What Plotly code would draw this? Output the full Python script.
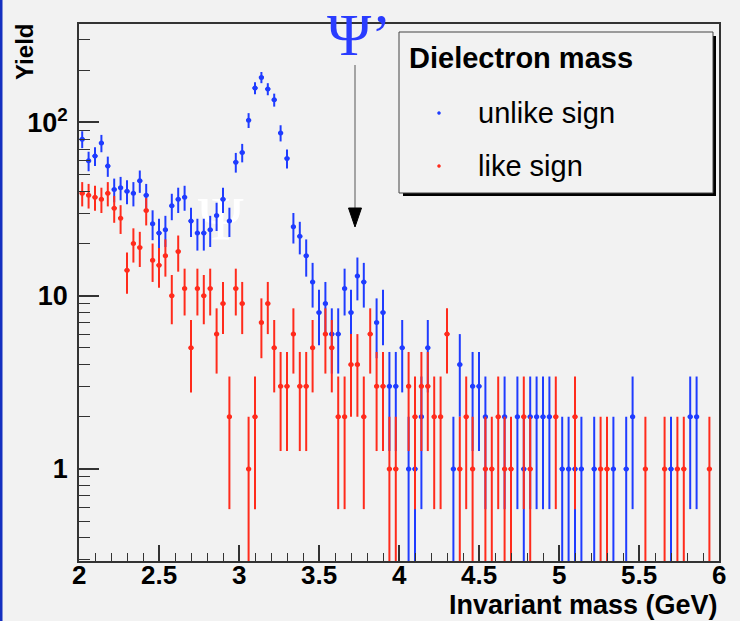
import numpy as np
import plotly.graph_objects as go

# ---- data: dielectron invariant-mass histogram, 100 bins from 2 to 6 GeV ----
mass_lo, mass_hi, n_bins = 2.0, 6.0, 100

unlike_sign = [80, 60, 64, 76, 56, 41, 42, 40, 39, 46,
               38, 26, 23, 24, 33, 36, 37, 27, 23, 23,
               24, 29, 36, 27, 59, 67, 103, 158, 182, 156,
               135, 87, 62, 25, 22, 17, 12, 8, 9, 6,
               6, 11, 8, 13, 12, 0, 7, 8, 3, 3,
               5, 1, 1, 2, 5, 0, 0, 0, 1, 4,
               0, 3, 3, 2, 0, 0, 2, 0, 2, 1,
               2, 2, 2, 2, 0, 1, 1, 1, 1, 0,
               1, 0, 0, 1, 0, 1, 2, 0, 0, 0,
               0, 0, 1, 0, 0, 2, 2, 0, 0, 0]

like_sign = [39, 38, 37, 36, 39, 32, 28, 14, 20, 19,
             31, 16, 15, 17, 10, 18, 11, 5, 11, 10,
             11, 6, 9, 2, 11, 9, 1, 2, 7, 9,
             5, 3, 3, 6, 3, 3, 5, 0, 6, 5,
             2, 2, 4, 4, 2, 6, 3, 3, 1, 1,
             0, 3, 2, 3, 3, 2, 2, 6, 0, 1,
             2, 1, 0, 1, 1, 2, 1, 1, 0, 2,
             1, 0, 0, 0, 2, 0, 0, 2, 0, 0,
             0, 1, 1, 0, 0, 0, 0, 0, 1, 0,
             0, 1, 0, 1, 1, 0, 0, 0, 1, 0]

x_ticks = [2, 2.5, 3, 3.5, 4, 4.5, 5, 5.5, 6]
x_tick_text = ["2", "2.5", "3", "3.5", "4", "4.5", "5", "5.5", "6"]
y_ticks = [1, 10, 100]
y_tick_text = ["1", "10", "10<sup>2</sup>"]

BG = "#f2f2f2"
AXC = "#333333"
BLUE = "#1f3cff"
RED = "#ff2b1c"
FONT = "Liberation Sans"

bin_w = (mass_hi - mass_lo) / n_bins
centers = mass_lo + (np.arange(n_bins) + 0.5) * bin_w


def hist_trace(counts, color, name):
    c = np.asarray(counts, dtype=float)
    keep = c > 0
    x = centers[keep]
    y = c[keep]
    err = np.sqrt(y)
    err_lo = np.where(y - err > 0, err, y - 0.05)
    return go.Scatter(
        x=x, y=y, mode="markers", name=name, showlegend=False,
        marker=dict(color=color, size=5, symbol="circle"),
        error_y=dict(type="data", array=err, arrayminus=err_lo, symmetric=False,
                     color=color, thickness=2, width=0),
        error_x=dict(type="constant", value=bin_w * 0.4, color=color,
                     thickness=2, width=0),
        hoverinfo="x+y",
    )


fig = go.Figure()

# white psi label sitting under the data
fig.add_trace(go.Scatter(
    x=[2.885], y=[26], mode="text", text=["Ψ"], showlegend=False,
    textfont=dict(family="Liberation Serif", size=62, color="white"),
    hoverinfo="skip"))

fig.add_trace(hist_trace(unlike_sign, BLUE, "unlike sign"))
fig.add_trace(hist_trace(like_sign, RED, "like sign"))

W, H = 740, 621
L, R, T, B = 79, 21, 24, 60
pw, ph = W - L - R, H - T - B


def px(x):
    return (x - L) / pw


def py(y):
    return (H - B - y) / ph


shapes = []
# blue strip at the left edge of the canvas
shapes.append(dict(type="rect", xref="paper", yref="paper",
                   x0=px(0), x1=px(2.5), y0=py(H), y1=py(0),
                   fillcolor="#1530c0", line=dict(width=0), layer="above"))
# arrow toward psi'
shapes.append(dict(type="line", xref="paper", yref="paper",
                   x0=px(355), x1=px(355), y0=py(65), y1=py(210),
                   line=dict(color="#8a8a8a", width=1.5)))
shapes.append(dict(type="path", xref="paper", yref="paper",
                   path=f"M {px(348.5)} {py(208)} L {px(361.5)} {py(208)} L {px(355)} {py(227)} Z",
                   fillcolor="black", line=dict(color="black", width=1)))
# legend box with shadow
shapes.append(dict(type="rect", xref="paper", yref="paper",
                   x0=px(403), x1=px(716), y0=py(196), y1=py(36),
                   fillcolor="black", line=dict(width=0)))
shapes.append(dict(type="rect", xref="paper", yref="paper",
                   x0=px(399), x1=px(713), y0=py(193), y1=py(32),
                   fillcolor=BG, line=dict(color="#444444", width=1)))
# legend markers
for yy, col in [(113, BLUE), (166, RED)]:
    shapes.append(dict(type="circle", xref="paper", yref="paper",
                       x0=px(437.5), x1=px(440.5), y0=py(yy + 1.5), y1=py(yy - 1.5),
                       fillcolor=col, line=dict(color=col, width=0.5)))

annotations = [
    dict(text="Ψ’", xref="paper", yref="paper", x=px(359), y=py(0),
         xanchor="center", yanchor="top", showarrow=False,
         font=dict(family="Liberation Serif", size=60, color="#2a3cff")),
    dict(text="<b>Dielectron mass</b>", xref="paper", yref="paper",
         x=px(407), y=py(58), xanchor="left", yanchor="middle", showarrow=False,
         font=dict(family=FONT, size=29, color="black")),
    dict(text="unlike sign", xref="paper", yref="paper",
         x=px(476), y=py(113), xanchor="left", yanchor="middle", showarrow=False,
         font=dict(family=FONT, size=29, color="black")),
    dict(text="like sign", xref="paper", yref="paper",
         x=px(476), y=py(166), xanchor="left", yanchor="middle", showarrow=False,
         font=dict(family=FONT, size=29, color="black")),
    dict(text="<b>Invariant mass (GeV)</b>", xref="paper", yref="paper",
         x=px(720), y=py(605), xanchor="right", yanchor="middle", showarrow=False,
         font=dict(family=FONT, size=27, color="black")),
    dict(text="<b>Yield</b>", xref="paper", yref="paper",
         x=px(25), y=py(52), xanchor="center", yanchor="middle", showarrow=False,
         textangle=-90, font=dict(family=FONT, size=24, color="black")),
]
# x tick labels placed just under the axis
for xv, xt in zip(x_ticks, x_tick_text):
    annotations.append(dict(text=f"<b>{xt}</b>", xref="x", yref="paper",
                            x=xv, y=py(575), xanchor="center", yanchor="middle",
                            showarrow=False,
                            font=dict(family=FONT, size=26, color="black")))

y_minor = [v * 10 ** d for d in (-1, 0, 1, 2) for v in range(2, 10)]
y_minor = [v for v in y_minor if 0.29 < v < 380 and v not in (1, 10, 100)]

fig.update_layout(
    width=W, height=H,
    margin=dict(l=L, r=R, t=T, b=B, pad=0),
    paper_bgcolor=BG, plot_bgcolor=BG,
    font=dict(family=FONT, color="black"),
    shapes=shapes, annotations=annotations,
    showlegend=False,
    xaxis=dict(
        range=[mass_lo, mass_hi], tickmode="array", tickvals=x_ticks,
        showticklabels=False,
        ticks="inside", ticklen=16, tickwidth=1.5, tickcolor=AXC,
        showline=True, linecolor=AXC, linewidth=1.5, mirror=True,
        showgrid=False, zeroline=False,
        minor=dict(ticks="inside", ticklen=8, tickwidth=1.2, tickcolor=AXC,
                   tickmode="linear", tick0=2, dtick=0.1, showgrid=False),
    ),
    yaxis=dict(
        type="log", range=[np.log10(0.294), np.log10(370)],
        tickmode="array", tickvals=y_ticks, ticktext=y_tick_text,
        ticks="inside", ticklen=20, tickwidth=1.5, tickcolor=AXC,
        showline=True, linecolor=AXC, linewidth=1.5, mirror=True,
        showgrid=False, zeroline=False,
        tickfont=dict(family=FONT, size=27, color="black", weight="bold"),
        ticklabelstandoff=4,
        minor=dict(ticks="inside", ticklen=11, tickwidth=1.2, tickcolor=AXC,
                   tickmode="array", tickvals=y_minor, showgrid=False),
    ),
)

fig.write_html("out.html")
